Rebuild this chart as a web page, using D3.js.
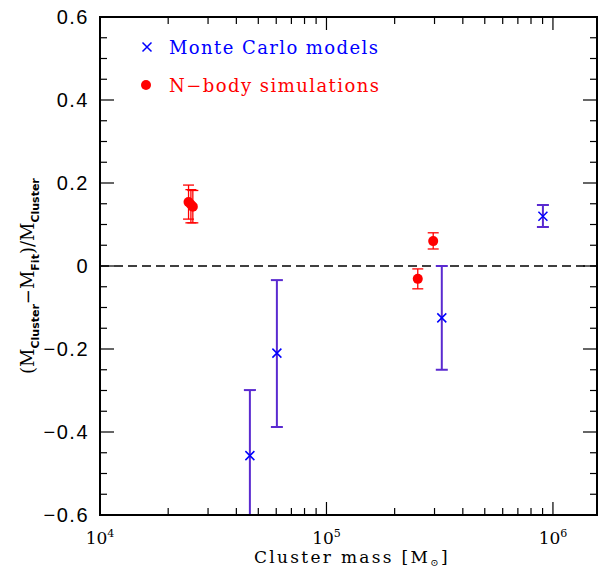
<!DOCTYPE html>
<html><head><meta charset="utf-8">
<script src="https://cdn.jsdelivr.net/npm/d3@7"></script>
<style>body{margin:0;background:#fff}svg{display:block}</style>
</head><body><svg id="c" width="600" height="572"></svg>
<script>
// Data
const mcMass = [45900, 60400, 323000, 903000];
const mcVal = [-0.457, -0.210, -0.125, 0.120];
const mcLow = [-0.80, -0.388, -0.250, 0.094];
const mcHigh = [-0.299, -0.034, 0.000, 0.147];

const nbMass = [24600, 25200, 25700, 253000, 296000];
const nbVal = [0.154, 0.148, 0.143, -0.031, 0.060];
const nbLow = [0.113, 0.104, 0.104, -0.055, 0.041];
const nbHigh = [0.195, 0.184, 0.182, -0.007, 0.080];

const yTicks = [-0.6, -0.4, -0.2, 0, 0.2, 0.4, 0.6];
const yTickLabels = ["\u22120.6", "\u22120.4", "\u22120.2", "0", "0.2", "0.4", "0.6"];
const xTicks = [1e4, 1e5, 1e6];
const xTickExp = ["4", "5", "6"];

const svg = d3.select("#c");
const L = 100, R = 597, T = 17, B = 515;
const x = d3.scaleLog().domain([1e4, 1.565e6]).range([L, R]);
const y = d3.scaleLinear().domain([-0.6, 0.6]).range([B, T]);

svg.append("clipPath").attr("id", "clip").append("rect")
  .attr("x", L).attr("y", T).attr("width", R - L).attr("height", B - T);

const g = svg.append("g").attr("clip-path", "url(#clip)");

// zero dashed line
g.append("line").attr("x1", L).attr("x2", R).attr("y1", y(0)).attr("y2", y(0))
  .attr("stroke", "#000").attr("stroke-width", 1.3).attr("stroke-dasharray", "9,5");

// MC error bars
const mcIdx = d3.range(mcMass.length);
const purple = "#5a2ad0";
mcIdx.forEach(i => {
  const cx = x(mcMass[i]);
  g.append("line").attr("x1", cx).attr("x2", cx).attr("y1", y(mcLow[i])).attr("y2", y(mcHigh[i]))
    .attr("stroke", purple).attr("stroke-width", 2);
  [mcLow[i], mcHigh[i]].forEach(v => {
    g.append("line").attr("x1", cx - 6).attr("x2", cx + 6).attr("y1", y(v)).attr("y2", y(v))
      .attr("stroke", purple).attr("stroke-width", 2);
  });
});
// NB error bars
const nbIdx = d3.range(nbMass.length);
nbIdx.forEach(i => {
  const cx = x(nbMass[i]);
  g.append("line").attr("x1", cx).attr("x2", cx).attr("y1", y(nbLow[i])).attr("y2", y(nbHigh[i]))
    .attr("stroke", "#ff0000").attr("stroke-width", 1.3);
  [nbLow[i], nbHigh[i]].forEach(v => {
    g.append("line").attr("x1", cx - 5.5).attr("x2", cx + 5.5).attr("y1", y(v)).attr("y2", y(v))
      .attr("stroke", "#ff0000").attr("stroke-width", 1.3);
  });
});
// NB dots
g.selectAll(".nb").data(nbIdx).enter().append("circle")
  .attr("cx", i => x(nbMass[i])).attr("cy", i => y(nbVal[i])).attr("r", 5)
  .attr("fill", "#ff0000");
// MC crosses
const cross = (sel, cx, cy, s) => {
  sel.append("path").attr("d", `M${cx-s},${cy-s}L${cx+s},${cy+s}M${cx-s},${cy+s}L${cx+s},${cy-s}`)
    .attr("stroke", "#0000ff").attr("stroke-width", 1.5).attr("fill", "none");
};
mcIdx.forEach(i => cross(g, x(mcMass[i]), y(mcVal[i]), 4.5));

// Frame
svg.append("rect").attr("x", L).attr("y", T).attr("width", R - L).attr("height", B - T)
  .attr("fill", "none").attr("stroke", "#000").attr("stroke-width", 2);

// Ticks
const tickG = svg.append("g").attr("stroke", "#000").attr("stroke-width", 1.2);
const xMinor = [];
for (let e = 4; e <= 6; e++) for (let m = 2; m <= 9; m++) { const v = m * Math.pow(10, e); if (v < 1.565e6) xMinor.push(v); }
xMinor.forEach(v => {
  tickG.append("line").attr("x1", x(v)).attr("x2", x(v)).attr("y1", B).attr("y2", B - 7);
  tickG.append("line").attr("x1", x(v)).attr("x2", x(v)).attr("y1", T).attr("y2", T + 7);
});
xTicks.forEach(v => {
  tickG.append("line").attr("x1", x(v)).attr("x2", x(v)).attr("y1", B).attr("y2", B - 13);
  tickG.append("line").attr("x1", x(v)).attr("x2", x(v)).attr("y1", T).attr("y2", T + 13);
});
d3.range(-0.6, 0.601, 0.05).forEach(v => {
  const major = Math.abs(Math.round(v * 5) - v * 5) < 1e-6;
  const len = major ? 14 : 7;
  tickG.append("line").attr("x1", L).attr("x2", L + len).attr("y1", y(v)).attr("y2", y(v));
  tickG.append("line").attr("x1", R).attr("x2", R - len).attr("y1", y(v)).attr("y2", y(v));
});

// Y tick labels
svg.selectAll(".yl").data(yTicks).enter().append("text")
  .attr("x", 89).attr("y", d => y(d) + 7)
  .attr("text-anchor", "end")
  .attr("font-family", "Liberation Sans, Arial, sans-serif").attr("font-size", 20)
  .attr("letter-spacing", 1.5)
  .text((d, i) => yTickLabels[i]);

// X tick labels
xTicks.forEach((v, i) => {
  const t = svg.append("text").attr("x", x(v)).attr("y", 544).attr("text-anchor", "middle")
    .attr("font-family", "'DejaVu Serif', serif").attr("font-size", 17).attr("fill", "#000");
  t.append("tspan").text("10");
  t.append("tspan").attr("dy", -7).attr("font-size", 11).text(xTickExp[i]);
});

// X label
const xl = svg.append("text").attr("x", 254).attr("y", 563)
  .attr("font-family", "'DejaVu Serif', serif").attr("font-size", 17).attr("fill", "#000")
  .attr("letter-spacing", 2.3);
xl.append("tspan").text("Cluster mass [M");
xl.append("tspan").attr("dy", 3).attr("font-size", 10).text("\u2299");
xl.append("tspan").attr("dy", -3).text("]");

// Y label
const yl = svg.append("text").attr("transform", "translate(34,374) rotate(-90)")
  .attr("font-family", "'DejaVu Serif', serif").attr("font-size", 18).attr("fill", "#000");
yl.append("tspan").text("(M");
yl.append("tspan").attr("dy", 5).attr("font-size", 11).attr("font-family", "'DejaVu Sans', sans-serif").attr("font-weight", "bold").text("Cluster");
yl.append("tspan").attr("dy", -5).text("\u2212M");
yl.append("tspan").attr("dy", 5).attr("font-size", 11).attr("font-family", "'DejaVu Sans', sans-serif").attr("font-weight", "bold").text("Fit");
yl.append("tspan").attr("dy", -5).text(")/M");
yl.append("tspan").attr("dy", 5).attr("font-size", 11).attr("font-family", "'DejaVu Sans', sans-serif").attr("font-weight", "bold").text("Cluster");

// Legend
cross(svg, 147, 47, 4.5);
svg.append("text").attr("x", 169).attr("y", 54).attr("font-family", "'DejaVu Serif', serif")
  .attr("font-size", 18).attr("fill", "#0000ff").attr("textLength", 209).attr("lengthAdjust", "spacing")
  .text("Monte Carlo models");
svg.append("circle").attr("cx", 146).attr("cy", 85).attr("r", 5).attr("fill", "#ff0000");
svg.append("text").attr("x", 169).attr("y", 92).attr("font-family", "'DejaVu Serif', serif")
  .attr("font-size", 18).attr("fill", "#ff0000").attr("textLength", 210).attr("lengthAdjust", "spacing")
  .text("N\u2212body simulations");
</script></body></html>
